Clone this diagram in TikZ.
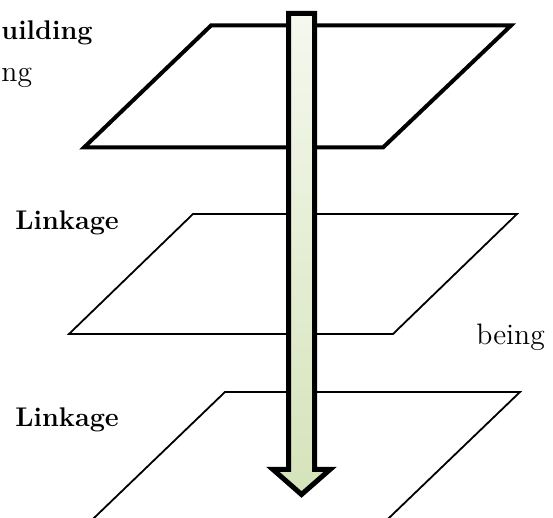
\documentclass[tikz,border=0pt]{standalone}
\usepackage{tikz}

\definecolor{flowtop}{HTML}{F5F8EE}
\definecolor{flowbottom}{HTML}{D5E3BA}

\begin{document}
\begin{tikzpicture}[
    x=0.5pt, y=-0.5pt,
    layer/.style={draw=black, line width=0.9pt, line join=miter},
    mainlayer/.style={layer, line width=2pt},
    flow/.style={draw=black, line width=2.5pt, line join=miter, miter limit=10, top color=flowtop, bottom color=flowbottom},
    layername/.style={inner sep=0pt, anchor=base west, font=\fontsize{13.5}{16}\selectfont\bfseries},
    sidetext/.style={inner sep=0pt, anchor=base west, font=\fontsize{14.8}{18}\selectfont}
]

    % Frame of the picture
    \useasboundingbox (0,0) rectangle (553,518);
    \clip (0,0) rectangle (553,518);

    % Layers
    \draw[mainlayer] (211,25.5) -- (511,25.5) -- (383,147.5) -- (84,147.5) -- cycle;
    \draw[layer] (193,214) -- (517,214) -- (393,334) -- (69,334) -- cycle;
    \draw[layer] (225,392) -- (520,392) -- (364,542) -- (69,542) -- cycle;

    % Downward arrow through the layers
    \path[flow] (288.5,13.5) -- (314.5,13.5) -- (314.5,469.5) -- (330,469.5)
        -- (301.5,494.5) -- (273,469.5) -- (288.5,469.5) -- cycle;

    % Texts
    \node[layername] (building) at (1,40) {uilding};
    \node[sidetext] (topnote) at (1,82) {ng};
    \node[layername] (link1) at (15,230) {Linkage};
    \node[sidetext] (being) at (476,345) {being};
    \node[layername] (link2) at (15,427) {Linkage};

\end{tikzpicture}
\end{document}
